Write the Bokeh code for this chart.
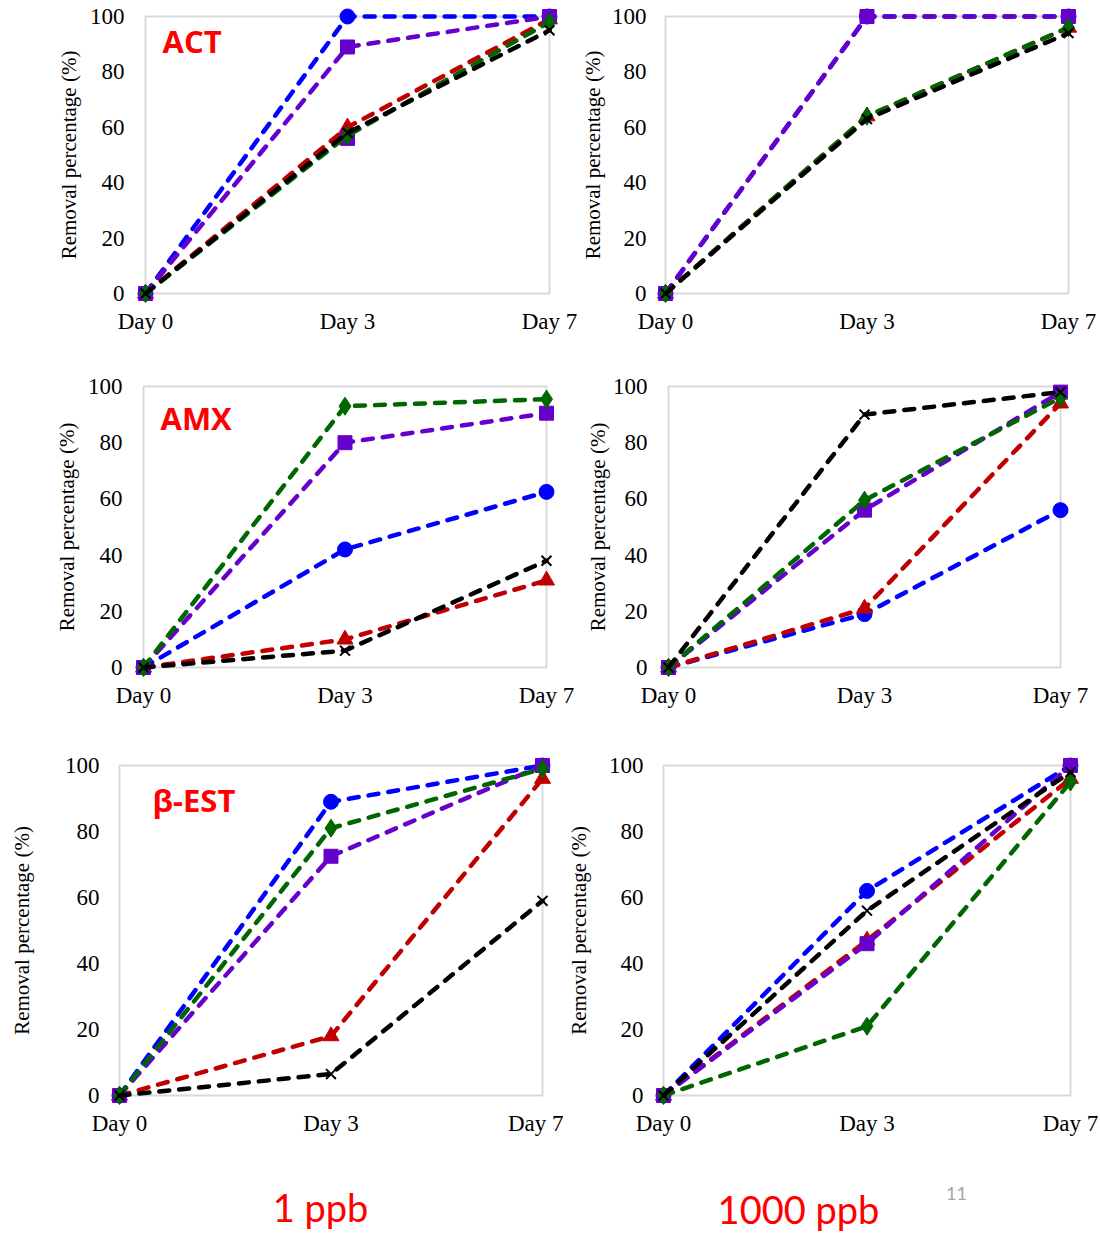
import math
from bokeh.plotting import figure
from bokeh.layouts import column, row
from bokeh.models import Range1d, FixedTicker, Label
from bokeh.embed import file_html
from bokeh.resources import INLINE

# ---------------- data ----------------
days = ["Day 0", "Day 3", "Day 7"]
yticks = [0, 20, 40, 60, 80, 100]
NA = float("nan")

# ACT, 1 ppb
act_1_blue = [0, 100, 100]
act_1_red = [0, 60, 99]
act_1_purple = [0, 89, 100]
act_1_green = [0, 57, 98]
act_1_black = [0, 58, 95]
act_1_extra_square = [NA, 56, NA]

# ACT, 1000 ppb
act_1000_blue = [0, 100, 100]
act_1000_red = [0, 64, 96]
act_1000_purple = [0, 100, 100]
act_1000_green = [0, 64, 96]
act_1000_black = [0, 63, 94]

# AMX, 1 ppb
amx_1_blue = [0, 42, 62.5]
amx_1_red = [0, 10, 31]
amx_1_purple = [0, 80, 90.5]
amx_1_green = [0, 93, 95.5]
amx_1_black = [0, 6, 38]

# AMX, 1000 ppb
amx_1000_blue = [0, 19, 56]
amx_1000_red = [0, 21, 94]
amx_1000_purple = [0, 56, 98]
amx_1000_green = [0, 59.5, 96]
amx_1000_black = [0, 90, 98]

# beta-EST, 1 ppb
est_1_blue = [0, 89, 100]
est_1_red = [0, 18, 96]
est_1_purple = [0, 72.5, 100]
est_1_green = [0, 81, 99]
est_1_black = [0, 6.5, 59]

# beta-EST, 1000 ppb
est_1000_blue = [0, 62, 100]
est_1000_red = [0, 47, 96]
est_1000_purple = [0, 46, 100]
est_1000_green = [0, 21, 95]
est_1000_black = [0, 56, 98]

panel_titles = ["ACT", "", "AMX", "", "\u03b2-EST", ""]
conc_labels = ["1 ppb", "1000 ppb"]
page_number = "11"

# ---------------- styles ----------------
STYLE = {
    "blue": dict(color="#0000FF", marker="circle", size=15),
    "red": dict(color="#C00000", marker="triangle", size=16),
    "purple": dict(color="#6600CC", marker="square", size=14),
    "green": dict(color="#006600", marker="diamond", size=18),
    "black": dict(color="#000000", marker="x", size=14),
}
ORDER = ["blue", "red", "purple", "green", "black"]

panels_data = [
    dict(blue=act_1_blue, red=act_1_red, purple=act_1_purple, green=act_1_green, black=act_1_black),
    dict(blue=act_1000_blue, red=act_1000_red, purple=act_1000_purple, green=act_1000_green, black=act_1000_black),
    dict(blue=amx_1_blue, red=amx_1_red, purple=amx_1_purple, green=amx_1_green, black=amx_1_black),
    dict(blue=amx_1000_blue, red=amx_1000_red, purple=amx_1000_purple, green=amx_1000_green, black=amx_1000_black),
    dict(blue=est_1_blue, red=est_1_red, purple=est_1_purple, green=est_1_green, black=est_1_black),
    dict(blue=est_1000_blue, red=est_1000_red, purple=est_1000_purple, green=est_1000_green, black=est_1000_black),
]

# layout geometry (page pixel coords): figure box (x, y, w, h), frame box, standoffs, title offsets
GEOM = [
    dict(fig=(0, 0, 577, 345), frame=(145, 14, 549, 293), ylab=15, ytit=6, title_off=(17, 24)),
    dict(fig=(577, 0, 523, 345), frame=(663, 16, 1068, 293), ylab=13, ytit=4, title_off=None),
    dict(fig=(0, 345, 578, 390), frame=(143, 386, 546, 667), ylab=15, ytit=6, title_off=(17, 31)),
    dict(fig=(578, 345, 522, 390), frame=(668, 386, 1060, 672), ylab=15, ytit=0, title_off=None),
    dict(fig=(0, 735, 563, 415), frame=(119, 763, 542, 1095), ylab=14, ytit=28, title_off=(33, 34)),
    dict(fig=(563, 735, 537, 415), frame=(659, 765, 1070, 1096), ylab=14, ytit=15, title_off=None),
]

SERIF = "Liberation Serif"
xs = list(range(len(days)))


def make_panel(i):
    g = GEOM[i]
    fx, fy, fw, fh = g["fig"]
    x0, y0, x1, y1 = g["frame"]
    p = figure(
        width=fw, height=fh,
        x_range=Range1d(xs[0], xs[-1]), y_range=Range1d(yticks[0], yticks[-1]),
        output_backend="svg", toolbar_location=None,
        min_border_left=x0 - fx, min_border_top=y0 - fy,
        min_border_right=fx + fw - x1, min_border_bottom=fy + fh - y1,
        background_fill_color="white", border_fill_color="white",
    )
    p.outline_line_color = "#D9D9D9"
    p.outline_line_width = 2
    p.xgrid.visible = False
    p.ygrid.visible = False
    p.xaxis.ticker = FixedTicker(ticks=xs)
    p.xaxis.major_label_overrides = {x: d for x, d in zip(xs, days)}
    p.yaxis.ticker = FixedTicker(ticks=yticks)
    for ax in (p.xaxis[0], p.yaxis[0]):
        ax.axis_line_color = None
        ax.major_tick_line_color = None
        ax.minor_tick_line_color = None
        ax.major_label_text_font = SERIF
        ax.major_label_text_font_size = "23px"
        ax.major_label_text_color = "black"
    p.xaxis.major_label_standoff = 9
    p.yaxis.major_label_standoff = g["ylab"]
    p.yaxis.axis_label = "Removal percentage (%)"
    p.yaxis.axis_label_text_font = SERIF
    p.yaxis.axis_label_text_font_size = "21px"
    p.yaxis.axis_label_text_font_style = "normal"
    p.yaxis.axis_label_text_color = "black"
    p.yaxis.axis_label_standoff = g["ytit"]

    data = panels_data[i]
    for key in ORDER:
        st = STYLE[key]
        ys = data[key]
        p.line(xs, ys, line_color=st["color"], line_width=4.5, line_dash="10 10",
               line_cap="round", level="overlay")
        if st["marker"] == "x":
            p.scatter(xs, ys, marker="x", size=st["size"], line_color=st["color"],
                      line_width=2, level="overlay")
        else:
            p.scatter(xs, ys, marker=st["marker"], size=st["size"], fill_color=st["color"],
                      line_color=st["color"], line_width=1, level="overlay")
        if i == 0 and key == "purple":
            p.scatter(xs, act_1_extra_square, marker="square", size=st["size"],
                      fill_color=st["color"], line_color=st["color"], level="overlay")

    if g["title_off"] is not None and panel_titles[i]:
        ox, oy = g["title_off"]
        p.add_layout(Label(x=xs[0], y=yticks[-1], x_offset=ox, y_offset=-oy,
                           text=panel_titles[i], text_font="Open Sans",
                           text_font_style="bold", text_font_size="31px",
                           text_color="#FF0000", text_baseline="middle", text_align="left"))
    return p


panels = [make_panel(i) for i in range(6)]

# bottom band with concentration labels
bw, bh = 1100, 82
pb = figure(width=bw, height=bh, x_range=Range1d(0, bw), y_range=Range1d(0, bh),
            output_backend="svg", toolbar_location=None, min_border=0,
            outline_line_color=None, background_fill_color="white", border_fill_color="white")
pb.axis.visible = False
pb.grid.visible = False
pb.add_layout(Label(x=320, y=bh - 56, text=conc_labels[0], text_align="center",
                    text_baseline="middle", text_font="Lato", text_font_size="38px",
                    text_color="#FF0000"))
pb.add_layout(Label(x=798, y=bh - 58, text=conc_labels[1], text_align="center",
                    text_baseline="middle", text_font="Lato", text_font_size="38px",
                    text_color="#FF0000"))
pb.add_layout(Label(x=956, y=bh - 43, text=page_number, text_align="center",
                    text_baseline="middle", text_font="Lato", text_font_size="18px",
                    text_color="#A6A6A6"))

layout = column(row(panels[0], panels[1]), row(panels[2], panels[3]),
                row(panels[4], panels[5]), pb, spacing=0)
open("out.html", "w").write(file_html(layout, INLINE))
